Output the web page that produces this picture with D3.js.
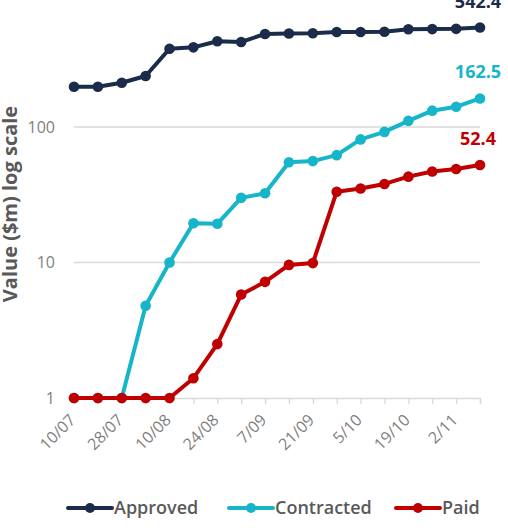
<!DOCTYPE html>
<html>
<head>
<meta charset="utf-8">
<script src="https://cdn.jsdelivr.net/npm/d3@7"></script>
<style>
  body { margin: 0; background: #fff; }
  svg { display: block; font-family: "Open Sans", sans-serif; }
</style>
</head>
<body>
<svg width="508" height="528"></svg>
<script>
// weekly report dates (every other one is labelled)
var dates = ["10/07", "17/07", "28/07", "3/08", "10/08", "17/08", "24/08", "31/08", "7/09",
             "14/09", "21/09", "28/09", "5/10", "12/10", "19/10", "26/10", "2/11", "9/11"];
var approved = [198, 198, 212, 238, 378, 387, 429, 424, 486, 490, 492, 502, 502, 505, 526, 528, 530, 542.4];
var contracted = [1, 1, 1, 4.8, 10, 19.5, 19.3, 30, 32.4, 55, 56, 62, 81, 92, 111, 132, 141, 162.5];
var paid = [1, 1, 1, 1, 1, 1.4, 2.5, 5.8, 7.2, 9.6, 9.9, 33.3, 35.2, 38, 43, 47, 49, 52.4];
var yTicks = [1, 10, 100];

var series = [
  { name: "Approved", values: approved, color: "#1b2b4a" },
  { name: "Contracted", values: contracted, color: "#17b5c9" },
  { name: "Paid", values: paid, color: "#c00000" }
];

var svg = d3.select("svg");

var x = d3.scalePoint().domain(dates).range([74, 480]);
var y = d3.scaleLog().domain([1, 1000]).range([398, -8.5]);

// gridlines
svg.append("g")
  .selectAll("line")
  .data(yTicks.slice(1))
  .enter().append("line")
    .attr("x1", 74).attr("x2", 480)
    .attr("y1", function(d) { return y(d); })
    .attr("y2", function(d) { return y(d); })
    .attr("stroke", "#d9d9d9").attr("stroke-width", 1.3);

// y tick labels
svg.append("g")
  .selectAll("text")
  .data(yTicks)
  .enter().append("text")
    .attr("x", 55)
    .attr("y", function(d) { return y(d); })
    .attr("dy", "0.36em")
    .attr("text-anchor", "end")
    .attr("fill", "#7f7f7f")
    .style("font-size", "16px")
    .text(function(d) { return d; });

// x axis
var xAxis = svg.append("g")
  .attr("transform", "translate(0," + y(1) + ")")
  .call(d3.axisBottom(x).tickSize(6).tickFormat(function(d, i) { return i % 2 === 0 ? d : ""; }));
xAxis.select(".domain").attr("stroke", "#d9d9d9").attr("stroke-width", 1.5);
xAxis.selectAll(".tick line").attr("stroke", "#d9d9d9").attr("stroke-width", 1.3);
xAxis.selectAll(".tick text")
  .attr("fill", "#7f7f7f")
  .style("font-size", "16px")
  .style("font-family", "Open Sans")
  .attr("text-anchor", "end")
  .attr("x", 0).attr("y", 0).attr("dy", 0)
  .attr("transform", "translate(2,23) rotate(-45)");

// y axis title
svg.append("text")
  .attr("transform", "translate(17,204) rotate(-90)")
  .attr("text-anchor", "middle")
  .attr("fill", "#595959")
  .style("font-size", "20px")
  .style("font-weight", "bold")
  .text("Value ($m) log scale");

var line = d3.line()
  .x(function(d, i) { return x(dates[i]); })
  .y(function(d) { return y(d); });

series.forEach(function(s) {
  var g = svg.append("g");
  g.append("path")
    .attr("d", line(s.values))
    .attr("fill", "none")
    .attr("stroke", s.color)
    .attr("stroke-width", 4)
    .attr("stroke-linejoin", "round");
  g.selectAll("circle")
    .data(s.values)
    .enter().append("circle")
      .attr("cx", function(d, i) { return x(dates[i]); })
      .attr("cy", function(d) { return y(d); })
      .attr("r", 5.3)
      .attr("fill", s.color);
  var last = s.values[s.values.length - 1];
  g.append("text")
    .attr("x", x(dates[dates.length - 1]) - 2)
    .attr("y", y(last) - 20)
    .attr("text-anchor", "middle")
    .attr("fill", s.color)
    .style("font-size", "18px")
    .style("font-weight", "bold")
    .text(last);
});

// legend
var legendX = [68, 229, 396];
var legend = svg.append("g")
  .selectAll("g")
  .data(series)
  .enter().append("g")
    .attr("transform", function(d, i) { return "translate(" + legendX[i] + ",508)"; });
legend.append("line")
  .attr("x1", 0).attr("x2", 44)
  .attr("stroke", function(d) { return d.color; })
  .attr("stroke-width", 4)
  .attr("stroke-linecap", "round");
legend.append("circle")
  .attr("cx", 22).attr("r", 5)
  .attr("fill", function(d) { return d.color; });
legend.append("text")
  .attr("x", 46)
  .attr("dy", "0.36em")
  .attr("fill", "#595959")
  .style("font-size", "18px")
  .style("font-weight", 600)
  .text(function(d) { return d.name; });
</script>
</body>
</html>
